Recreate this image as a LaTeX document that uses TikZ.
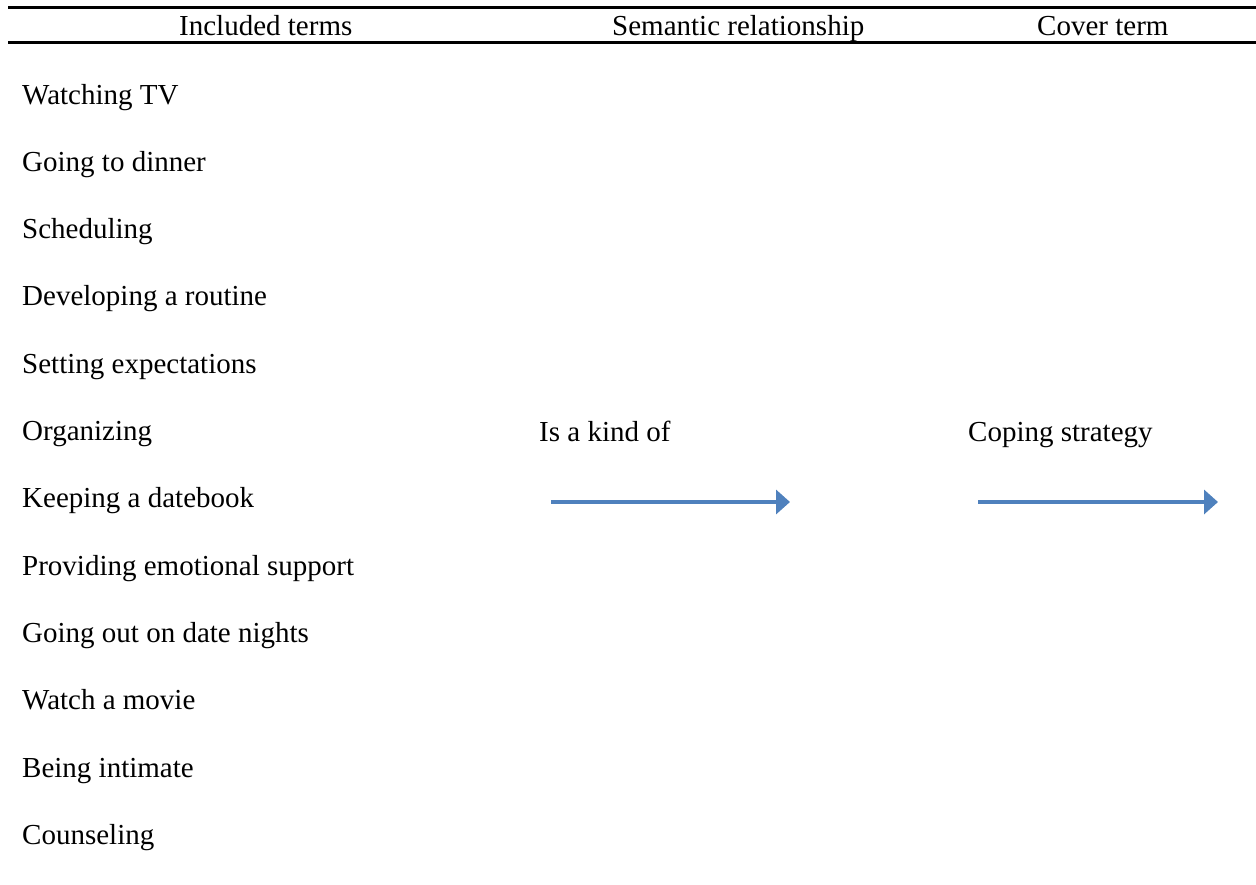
\documentclass[tikz,border=0pt]{standalone}
\usepackage{fontspec}
\setmainfont{Liberation Serif}
\usetikzlibrary{arrows.meta}
\definecolor{arrowblue}{RGB}{79,129,189}
\begin{document}
\begin{tikzpicture}[x=1pt,y=-1pt,
  lbl/.style={anchor=base west,inner sep=0pt,font=\fontsize{29}{34}\selectfont},
  rule/.style={line width=3pt,black},
  relarrow/.style={line width=3.5pt,arrowblue,-{Triangle[length=14pt,width=24pt]}}]
\useasboundingbox (0,0) rectangle (1256,884);
% table rules
\coordinate (r1a) at (8,7);   \coordinate (r1b) at (1256,7);
\coordinate (r2a) at (8,42);  \coordinate (r2b) at (1256,42);
\draw[rule] (r1a) -- (r1b);
\draw[rule] (r2a) -- (r2b);
% column heads
\node[lbl] (hInc) at (179,35) {Included terms};
\node[lbl] (hSem) at (612,35) {Semantic relationship};
\node[lbl] (hCov) at (1037,35) {Cover term};
% included terms
\foreach \t [count=\i] in {Watching TV,Going to dinner,Scheduling,Developing a routine,Setting expectations,Organizing,Keeping a datebook,Providing emotional support,Going out on date nights,Watch a movie,Being intimate,Counseling}
  \node[lbl] (t\i) at (22,{104+(\i-1)*67.3}) {\t};
% relationship and cover term
\node[lbl] (rel) at (539,441) {Is a kind of};
\node[lbl] (cov) at (968,441) {Coping strategy};
% arrows
\coordinate (a1s) at (551,502); \coordinate (a1e) at (790,502);
\coordinate (a2s) at (978,502); \coordinate (a2e) at (1218,502);
\draw[relarrow] (a1s) -- (a1e);
\draw[relarrow] (a2s) -- (a2e);
\end{tikzpicture}
\end{document}
